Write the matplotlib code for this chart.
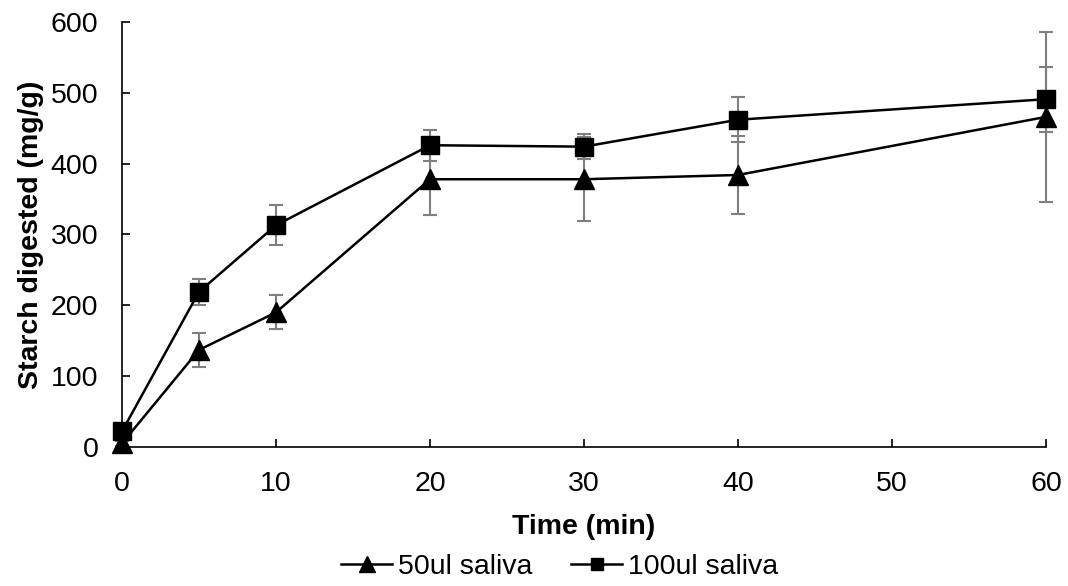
import matplotlib.pyplot as plt
from matplotlib.lines import Line2D

plt.rcParams['font.family'] = ['Liberation Sans', 'DejaVu Sans']

# data
time = [0, 5, 10, 20, 30, 40, 60]
saliva_50 = [5, 137, 190, 378, 378, 384, 466]
err_50 = [3, 24, 24, 51, 59, 55, 120]
saliva_100 = [22, 219, 313, 426, 424, 462, 491]
err_100 = [3, 18, 28, 22, 18, 32, 46]
xticks = [0, 10, 20, 30, 40, 50, 60]
yticks = [0, 100, 200, 300, 400, 500, 600]

fs = 20.5

fig = plt.figure(figsize=(10.68, 5.86), dpi=100)
ax = fig.add_axes([0.1142, 0.2372, 0.8652, 0.7253])

# error bars (grey) under the lines
ax.errorbar(time, saliva_50, yerr=err_50, fmt='none', ecolor='#7f7f7f',
            elinewidth=1.5, capsize=5, capthick=1.5, zorder=1)
ax.errorbar(time, saliva_100, yerr=err_100, fmt='none', ecolor='#7f7f7f',
            elinewidth=1.5, capsize=5, capthick=1.5, zorder=1)

ax.plot(time, saliva_50, color='black', lw=1.8, marker='^', ms=14, zorder=3)
ax.plot(time, saliva_100, color='black', lw=1.8, marker='s', ms=13.5, zorder=3)

ax.set_xlim(0, 60)
ax.set_ylim(0, 600)
ax.set_xticks(xticks)
ax.set_yticks(yticks)
ax.tick_params(direction='in', length=6, width=1.2, labelsize=fs)
ax.tick_params(axis='y', pad=17)
ax.tick_params(axis='x', pad=17)
for s in ['top', 'right']:
    ax.spines[s].set_visible(False)
for s in ['left', 'bottom']:
    ax.spines[s].set_linewidth(1.2)
for art in ax.get_children():
    art.set_clip_on(False)

ax.set_xlabel('Time (min)', fontsize=fs, fontweight='bold', va='center')
ax.xaxis.set_label_coords(0.5, (447 - 527) / 425)
ax.set_ylabel('Starch digested (mg/g)', fontsize=fs, fontweight='bold', va='center')
ax.yaxis.set_label_coords((31 - 122) / 924, 0.5)

handles = [
    Line2D([], [], color='black', lw=1.8, marker='^', ms=11),
    Line2D([], [], color='black', lw=1.8, marker='s', ms=9),
]
fig.legend(handles, ['50ul saliva', '100ul saliva'], loc='center',
           bbox_to_anchor=(0.524, 0.032), ncol=2, frameon=False, fontsize=fs,
           handlelength=1.8, handletextpad=0.2, columnspacing=1.35)

fig.savefig('out.png', dpi=100)
